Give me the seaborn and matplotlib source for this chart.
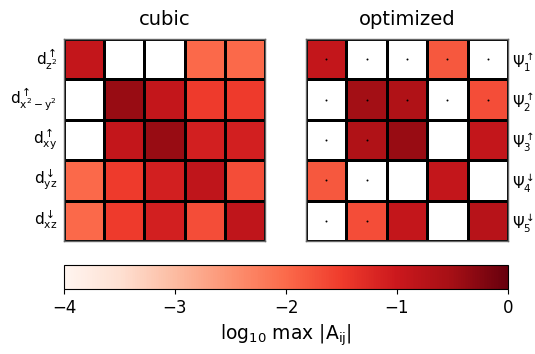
import numpy as np
import pandas as pd
import matplotlib
matplotlib.use("Agg")
import matplotlib.pyplot as plt
import seaborn as sns

nan = np.nan
row_labels_left = [r"$\mathrm{d}^{\uparrow}_{\mathrm{z^2}}$",
                   r"$\mathrm{d}^{\uparrow}_{\mathrm{x^2-y^2}}$",
                   r"$\mathrm{d}^{\uparrow}_{\mathrm{xy}}$",
                   r"$\mathrm{d}^{\downarrow}_{\mathrm{yz}}$",
                   r"$\mathrm{d}^{\downarrow}_{\mathrm{xz}}$"]
row_labels_right = [r"$\Psi^{\uparrow}_{1}$", r"$\Psi^{\uparrow}_{2}$",
                    r"$\Psi^{\uparrow}_{3}$", r"$\Psi^{\downarrow}_{4}$",
                    r"$\Psi^{\downarrow}_{5}$"]

cubic = [
    [-0.9, nan, nan, -2.0, -2.0],
    [nan, -0.4, -0.9, -1.5, -1.5],
    [nan, -0.9, -0.4, -1.1, -1.1],
    [-2.0, -1.5, -1.1, -0.85, -1.7],
    [-2.0, -1.5, -1.1, -1.7, -0.85],
]
optimized = [
    [-0.9, nan, nan, -1.8, nan],
    [nan, -0.5, -0.65, nan, -1.7],
    [nan, -0.65, -0.4, nan, -0.9],
    [-1.8, nan, nan, -0.9, nan],
    [nan, -1.7, -0.9, nan, -0.75],
]
dots = [
    [1, 1, 1, 1, 1],
    [1, 1, 1, 1, 1],
    [1, 1, 0, 0, 0],
    [1, 1, 0, 0, 0],
    [1, 1, 0, 0, 0],
]
cbar_ticks = [-4, -3, -2, -1, 0]

cmap = plt.get_cmap("Reds").copy()
cmap.set_bad("white")

fig = plt.figure(figsize=(5.35, 3.54), dpi=100)
ax1 = fig.add_axes([64/535, 113/354, 201/535, 202/354])
ax2 = fig.add_axes([306/535, 113/354, 202/535, 202/354])
cax = fig.add_axes([64/535, 65/354, 444/535, 24/354])

kw = dict(cmap=cmap, vmin=-4, vmax=0, linewidths=0.9, linecolor="black",
          square=False, xticklabels=False)
sns.heatmap(pd.DataFrame(cubic), ax=ax1, cbar=True, cbar_ax=cax,
            cbar_kws=dict(orientation="horizontal", ticks=cbar_ticks),
            yticklabels=row_labels_left, **kw)
sns.heatmap(pd.DataFrame(optimized), ax=ax2, cbar=False,
            yticklabels=row_labels_right, **kw)

for ax in (ax1, ax2):
    for s in ax.spines.values():
        s.set_visible(True)
        s.set_color("#666666")
        s.set_linewidth(1)
    ax.tick_params(axis="y", length=0, labelsize=11, rotation=0, pad=5)

ax2.yaxis.tick_right()
ax2.tick_params(axis="y", length=0, labelsize=10.5, rotation=0, pad=3)

dm = np.array(dots)
yy, xx = np.nonzero(dm)
ax2.scatter(xx + 0.5, yy + 0.5, s=2, color="black", zorder=5, linewidths=0)

ax1.set_title("cubic", fontsize=14, pad=10)
ax2.set_title("optimized", fontsize=14, pad=10)

cax.tick_params(labelsize=12)
cax.set_xlabel(r"log$_{10}$ max |A$_{\mathrm{ij}}$|", fontsize=13.5)
cbar = ax1.collections[0].colorbar
cbar.outline.set_edgecolor("black")
cbar.outline.set_linewidth(0.8)

fig.savefig("out.png", dpi=100)
